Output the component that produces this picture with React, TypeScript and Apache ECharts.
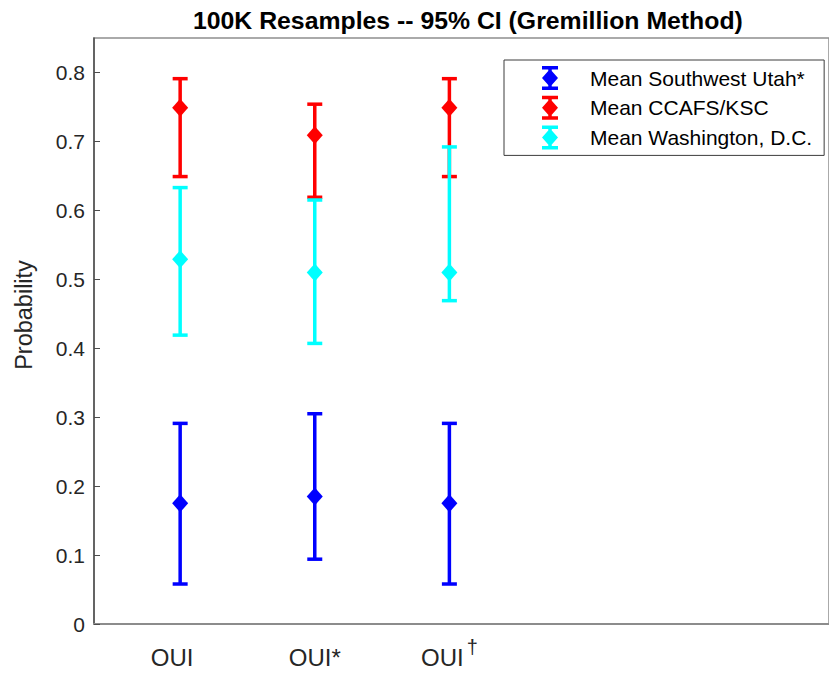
import React, { useEffect, useRef } from 'react';
import * as echarts from 'echarts';

// ---- data ----
const categories = ['OUI', 'OUI*', 'OUI†'];
const xPositions = [1, 2, 3];
const seriesNames = ['Mean Southwest Utah*', 'Mean CCAFS/KSC', 'Mean Washington, D.C.'];

const utahMean = [0.175, 0.185, 0.175];
const utahLow = [0.058, 0.094, 0.058];
const utahHigh = [0.291, 0.305, 0.291];

const ccafsMean = [0.749, 0.709, 0.749];
const ccafsLow = [0.649, 0.619, 0.649];
const ccafsHigh = [0.791, 0.754, 0.791];

const dcMean = [0.529, 0.51, 0.51];
const dcLow = [0.419, 0.407, 0.469];
const dcHigh = [0.633, 0.615, 0.692];

const yTickValues = [0, 0.1, 0.2, 0.3, 0.4, 0.5, 0.6, 0.7, 0.8];

// ---- styles ----
const colors = ['#0000ff', '#ff0000', '#00ffff'];
const FONT = '"Liberation Sans", Arial, Helvetica, sans-serif';
const ERRORBAR_ICON =
  'path://M0 0H16V3.5H0Z M6.25 0H9.75V24H6.25Z M0 20.5H16V24H0Z M8 3L16 12L8 21L0 12Z';

const groups = [
  { mean: utahMean, low: utahLow, high: utahHigh },
  { mean: ccafsMean, low: ccafsLow, high: ccafsHigh },
  { mean: dcMean, low: dcLow, high: dcHigh },
];

const renderErrorBar = (params: any, api: any) => {
  const x = api.value(0);
  const pm = api.coord([x, api.value(1)]);
  const pl = api.coord([x, api.value(2)]);
  const ph = api.coord([x, api.value(3)]);
  const color = api.visual('color');
  const cap = 7.5;
  const lw = 3.5;
  return {
    type: 'group',
    children: [
      { type: 'line', shape: { x1: pl[0], y1: pl[1], x2: ph[0], y2: ph[1] }, style: { stroke: color, lineWidth: lw } },
      { type: 'line', shape: { x1: ph[0] - cap, y1: ph[1], x2: ph[0] + cap, y2: ph[1] }, style: { stroke: color, lineWidth: lw } },
      { type: 'line', shape: { x1: pl[0] - cap, y1: pl[1], x2: pl[0] + cap, y2: pl[1] }, style: { stroke: color, lineWidth: lw } },
      {
        type: 'polygon',
        shape: { points: [[pm[0], pm[1] - 9], [pm[0] + 8, pm[1]], [pm[0], pm[1] + 9], [pm[0] - 8, pm[1]]] },
        style: { fill: color },
      },
    ],
  };
};

export default function App() {
  const ref = useRef<HTMLDivElement>(null);
  useEffect(() => {
    if (!ref.current) return;
    const chart = echarts.init(ref.current, undefined, { renderer: 'svg' });
    const option: any = {
      animation: false,
      backgroundColor: '#ffffff',
      title: {
        text: '100K Resamples -- 95% CI (Gremillion Method)',
        left: 188,
        top: 3,
        textStyle: { fontFamily: FONT, fontSize: 24.8, fontWeight: 'bold', color: '#000' },
      },
      grid: {
        left: 94,
        right: -12,
        top: 38,
        bottom: 51,
        show: true,
        borderColor: '#8f8f8f',
        borderWidth: 1.5,
        backgroundColor: 'transparent',
      },
      legend: {
        left: 504,
        top: 60,
        orient: 'vertical',
        selectedMode: false,
        padding: [6, 12, 6, 38],
        itemGap: 5.7,
        itemWidth: 16,
        itemHeight: 24,
        backgroundColor: '#fff',
        borderColor: '#3c3c3c',
        borderWidth: 1,
        textStyle: { fontFamily: FONT, fontSize: 21, color: '#000', padding: [0, 0, 0, 27] },
        data: seriesNames.map((n, i) => ({ name: n, icon: ERRORBAR_ICON, itemStyle: { color: colors[i] } })),
      },
      xAxis: {
        type: 'value',
        min: 0.36,
        max: 5.82,
        splitLine: { show: false },
        axisTick: { show: false },
        axisLine: { show: true, lineStyle: { color: '#8c8c8c', width: 2 } },
        axisLabel: {
          customValues: xPositions,
          margin: 13,
          formatter: (v: number) => {
            const idx = xPositions.indexOf(Math.round(v));
            const name = categories[idx] ?? '';
            if (name.endsWith('†')) return `{b|${name.slice(0, -1)}}{d|†}`;
            if (idx === 0) return `{b0|${name}}`;
            return `{b|${name}}`;
          },
          rich: {
            b: { fontFamily: FONT, fontSize: 24, lineHeight: 32, verticalAlign: 'bottom', color: '#262626' },
            b0: { fontFamily: FONT, fontSize: 24, lineHeight: 32, padding: [0, 16, 0, 0], verticalAlign: 'bottom', color: '#262626' },
            d: { fontFamily: FONT, fontSize: 20, lineHeight: 20, padding: [0, 0, 0, 3], verticalAlign: 'top', color: '#262626' },
          },
        },
      },
      yAxis: {
        type: 'value',
        min: 0,
        max: 0.85,
        interval: 0.1,
        name: 'Probability',
        nameLocation: 'middle',
        nameGap: 58,
        nameTextStyle: { fontFamily: FONT, fontSize: 23.5, color: '#262626', padding: [0, 0, 0, 32] },
        splitLine: { show: false },
        axisLine: { show: true, lineStyle: { color: '#4d4d4d', width: 1.5 } },
        axisTick: { show: true, inside: true, length: 6, lineStyle: { color: '#4d4d4d' } },
        axisLabel: {
          margin: 9,
          fontFamily: FONT,
          fontSize: 21,
          color: '#262626',
          showMaxLabel: false,
          formatter: (v: number) => {
            const t = yTickValues.find((y) => Math.abs(y - v) < 1e-6);
            return t === undefined ? '' : String(t);
          },
        },
      },
      series: groups.map((g, i) => ({
        type: 'custom',
        name: seriesNames[i],
        itemStyle: { color: colors[i] },
        encode: { x: 0, y: [1, 2, 3] },
        renderItem: renderErrorBar,
        data: xPositions.map((x, j) => [x, g.mean[j], g.low[j], g.high[j]]),
      })),
    };
    chart.setOption(option);
    return () => chart.dispose();
  }, []);
  return (
    <div
      ref={ref}
      style={{ position: 'absolute', left: 0, top: 0, width: 829, height: 675, overflow: 'hidden' }}
    />
  );
}
